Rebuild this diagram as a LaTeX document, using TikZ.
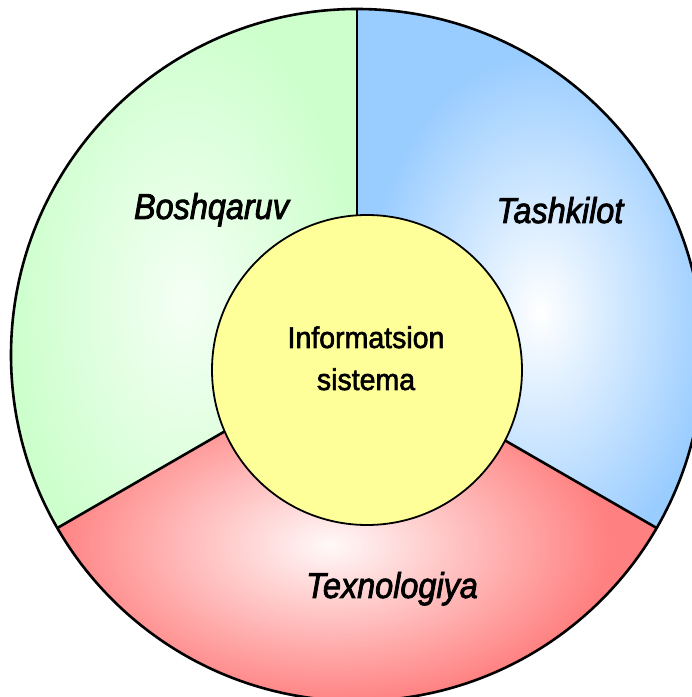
\documentclass[tikz,border=0pt]{standalone}
\usepackage{fontspec}
\setmainfont{Liberation Sans}
\newfontfamily\lblfont[FakeStretch=0.9, FakeBold=2.2]{Liberation Sans}
\newfontfamily\corefont[FakeStretch=0.95, FakeBold=2.0]{Liberation Sans}
\definecolor{cgreen}{RGB}{204,255,204}
\definecolor{cblue}{RGB}{153,204,255}
\definecolor{cred}{RGB}{255,128,128}
\definecolor{cyel}{RGB}{255,255,153}
\tikzset{
  sectorline/.style={draw=black, line width=2.6pt},
  lbl/.style={font=\lblfont\itshape\fontsize{36}{44}\selectfont, inner sep=0pt, anchor=base},
  core/.style={circle, draw=black, line width=1.8pt, fill=cyel, minimum size=310pt, inner sep=0pt},
  coretext/.style={font=\corefont\fontsize{30}{42}\selectfont, align=center, inner sep=0pt, anchor=base}
}
\begin{document}
\begin{tikzpicture}[x=1pt,y=1pt]
\useasboundingbox (0,0) rectangle (692,697);
\clip (0,0) rectangle (692,697);
\coordinate (C) at (357,342);
% green sector
\begin{scope}
  \clip (C) -- ++(210:346) arc[start angle=210, delta angle=-120, radius=346] -- cycle;
  \fill[cgreen] (C) circle (350);
  \shade[inner color=cgreen!20, outer color=cgreen] (185,395) ellipse (175 and 300);
\end{scope}
% blue sector
\begin{scope}
  \clip (C) -- ++(90:346) arc[start angle=90, delta angle=-120, radius=346] -- cycle;
  \fill[cblue] (C) circle (350);
  \shade[inner color=white, outer color=cblue] (540,385) ellipse (175 and 260);
\end{scope}
% red sector
\begin{scope}
  \clip (C) -- ++(-30:346) arc[start angle=-30, delta angle=-120, radius=346] -- cycle;
  \fill[cred] (C) circle (350);
  \shade[inner color=cred!5, outer color=cred] (330,152) ellipse (280 and 160);
\end{scope}
% outlines
\draw[sectorline] (C) circle (346);
\draw[sectorline] (C) -- ++(90:346);
\draw[sectorline] (C) -- ++(-30:346);
\draw[sectorline] (C) -- ++(210:346);
\node[core] (core) at (367,327) {};
\node[coretext] (coret) at (366,307) {Informatsion\\sistema};
\node[lbl] (b) at (211.5,478) {Boshqaruv};
\node[lbl] (t) at (560,474) {Tashkilot};
\node[lbl] (x) at (392,99) {Texnologiya};
\end{tikzpicture}
\end{document}
